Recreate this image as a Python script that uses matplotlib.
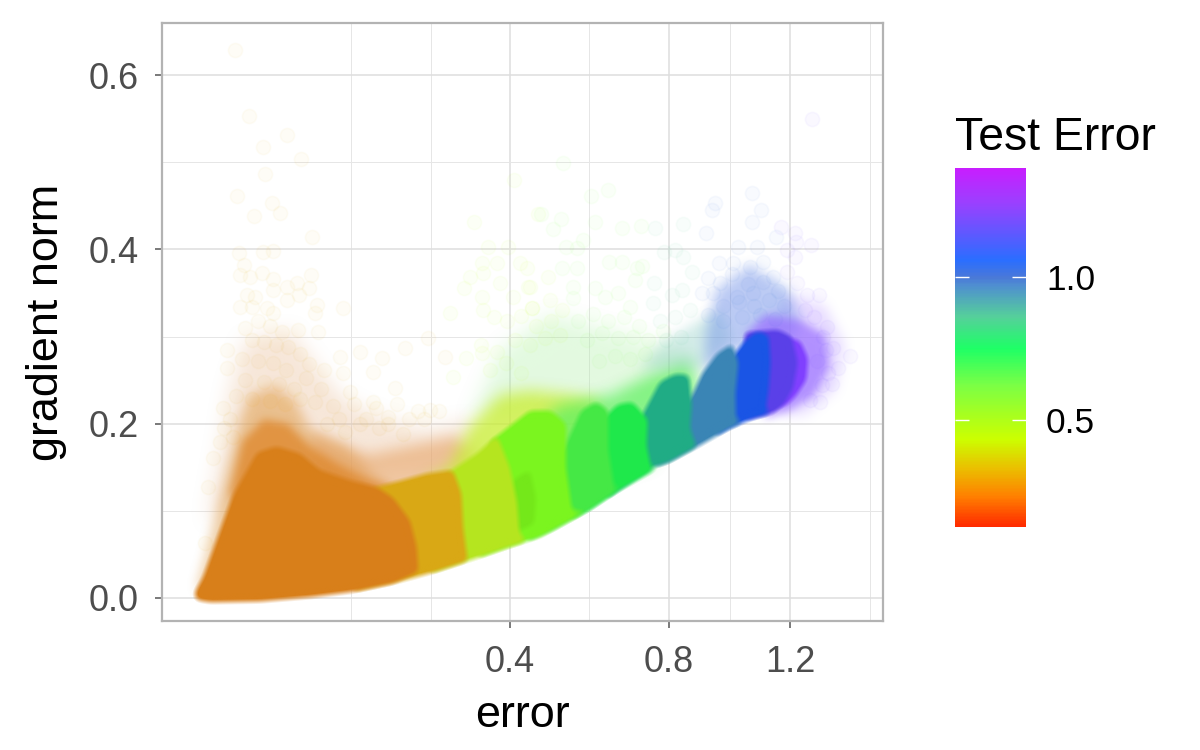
import numpy as np
import matplotlib
matplotlib.use('Agg')
import matplotlib.pyplot as plt
from matplotlib.cm import ScalarMappable
from matplotlib.colors import LinearSegmentedColormap, Normalize

plt.rcParams['font.family'] = ['Liberation Sans', 'DejaVu Sans']

# colour bar
bar_values = [0.124, 0.23, 0.33, 0.43, 0.62, 0.75, 0.86, 0.97, 1.0, 1.06, 1.26, 1.382]
bar_colors = ['#ff2a00', '#ff8000', '#eac000', '#ccff00', '#7bff45', '#1eff66',
              '#55d09a', '#4f8fd0', '#4a78d8', '#2a6eff', '#9a40ff', '#c81eff']
test_min, test_max = 0.124, 1.382
bar_ticks = [0.5, 1.0]

# scattered single runs: sqrt(error), gradient norm
orange_root = [.178, .201, .263, .224, .287, .227, .181, .239, .252, .209, .305, .184, .241, .224, .193,
               .186, .222, .241, .202, .303, .263, .300, .280, .197, .211, .241, .263, .284, .186, .206,
               .231, .313, .310, .356, .241, .194, .282, .315, .384, .459, .421, .164, .164, .351, .356,
               .406, .442, .158, .141, .153, .133, .128, .500, .525, .406, .431, .368, .497,
               .215, .235, .255, .205, .225, .245, .265, .285, .190, .215, .240, .262, .300, .325, .195,
               .225, .250, .275, .295, .320, .180, .205, .235, .260, .285, .310, .340, .375, .410, .445,
               .480, .395, .430, .465, .350, .385, .415, .455, .490, .515, .330, .360, .170, .175, .160]
orange_norm = [.629, .553, .531, .517, .504, .486, .461, .453, .442, .438, .414, .396, .398, .397, .382,
               .371, .373, .366, .368, .371, .357, .356, .361, .348, .345, .353, .342, .348, .334, .334,
               .333, .336, .327, .333, .327, .310, .307, .305, .282, .287, .275, .284, .264, .276, .258,
               .259, .241, .218, .161, .179, .127, .063, .216, .276, .225, .208, .236, .298,
               .318, .312, .305, .296, .294, .290, .288, .280, .274, .272, .270, .262, .268, .262, .250,
               .248, .245, .240, .252, .240, .232, .228, .226, .222, .228, .225, .220, .222, .218, .222,
               .214, .205, .200, .205, .205, .200, .195, .188, .205, .215, .200, .190, .205, .185, .195]
lime_root = [.639, .679, .573, .596, .629, .586, .611, .649, .566, .588, .556, .616, .665, .586, .637,
             .533, .588, .669, .586, .538, .660, .662, .695, .669, .698, .718,
             .605, .628, .650, .675, .700, .560, .585, .610, .640, .665, .690, .715, .600, .625, .650]
lime_norm = [.480, .441, .431, .403, .403, .384, .384, .384, .368, .373, .356, .361, .357, .345, .345,
             .327, .330, .333, .281, .254, .379, .357, .368, .333, .342, .330,
             .322, .318, .324, .312, .318, .275, .290, .282, .296, .290, .298, .302, .262, .270, .258]
green_root = [.720, .795, .766, .683, .717, .704, .773, .817, .849, .725, .743, .753, .796, .817, .842,
              .850, .839, .773, .743, .718, .736, .811, .736, .789, .830,
              .745, .770, .795, .820, .845, .760, .785, .810, .835, .860, .885, .780, .805, .830, .855]
green_norm = [.499, .468, .461, .441, .435, .423, .431, .424, .427, .403, .402, .411, .385, .385, .379,
              .381, .365, .356, .379, .379, .357, .350, .344, .345, .334,
              .318, .326, .318, .322, .312, .296, .304, .298, .300, .296, .306, .272, .278, .274, .280]
teal_root = [.872, .918, .887, .918, .905, .933, .870, .900, .869, .916, .880, .905, .930, .890, .915]
teal_norm = [.424, .429, .397, .391, .399, .374, .361, .348, .338, .353, .318, .322, .330, .296, .300]
blue_root = [1.032, 1.047, .971, .966, 1.032, .956, 1.072, 1.009, 1.040, .978, 1.001, 1.029, 1.050, .959,
             .979, 1.067, 1.007, .968, 1.034, .950,
             .985, 1.010, 1.035, 1.060, 1.085, .960, .985, 1.015, 1.045, 1.070, 1.000, 1.025, 1.050, 1.075]
blue_norm = [.465, .445, .453, .445, .431, .419, .414, .403, .403, .384, .384, .380, .385, .367,
             .361, .368, .345, .350, .350, .350,
             .335, .340, .335, .342, .335, .325, .318, .322, .325, .320, .372, .360, .362, .352]
purple_root = [1.131, 1.080, 1.103, 1.130, 1.105, 1.090, 1.103, 1.090, 1.143, 1.123, 1.107, 1.194, 1.166,
               1.156, 1.174, 1.148, 1.128, 1.158, 1.120, 1.135, 1.150, 1.140, 1.155, 1.165, 1.145]
purple_norm = [.549, .426, .419, .405, .408, .399, .391, .374, .348, .348, .361, .278, .287,
               .311, .264, .244, .227, .258, .330, .322, .300, .272, .285, .245, .225]
cloud_tests = [0.30, 0.45, 0.62, 0.85, 1.03, 1.2]

# thin haze above the solid bands
haze_rim_root = [.170, .190, .225, .265, .300, .345, .400, .445, .445, .300, .190]
haze_rim_norm = [.120, .180, .205, .200, .175, .155, .135, .125, .095, .120, .100]
haze_salmon_root = [.300, .345, .400, .470, .540, .570, .550, .430, .320]
haze_salmon_norm = [.190, .175, .165, .175, .185, .170, .120, .100, .120]
haze_orange_root = [.115, .128, .153, .173, .186, .202, .244, .277, .302, .359, .409, .442, .285, .169]
haze_orange_norm = [.011, .044, .112, .170, .204, .233, .244, .227, .193, .176, .141, .124, .112, .009]
haze_peach_root = [.133, .156, .169, .194, .269, .318, .359, .426, .500, .566, .583, .285]
haze_peach_norm = [.089, .181, .238, .296, .307, .261, .227, .204, .193, .204, .147, .135]
haze_yellow_root = [.480, .533, .566, .616, .665, .731, .781, .781, .649]
haze_yellow_norm = [.130, .150, .198, .233, .238, .233, .227, .181, .147]
haze_pale_root = [.566, .616, .698, .798, .880, .930, .946, .847, .714]
haze_pale_norm = [.204, .284, .325, .307, .290, .284, .262, .233, .216]
haze_green_root = [.649, .714, .797, .864, .930, .946, .864, .781]
haze_green_norm = [.181, .221, .233, .256, .273, .239, .153, .135]
haze_teal_root = [.847, .880, .946, .979, 1.001, .946]
haze_teal_norm = [.262, .290, .319, .330, .296, .262]
haze_blue_root = [.955, .974, 1.028, 1.095, 1.112, 1.095, 1.004, .955]
haze_blue_norm = [.302, .353, .382, .353, .319, .290, .284, .256]
haze_violet_root = [1.020, 1.054, 1.112, 1.153, 1.161, 1.136, 1.095, 1.054, 1.062]
haze_violet_norm = [.302, .325, .319, .302, .267, .233, .216, .206, .296]
haze_lilac_root = [1.095, 1.153, 1.186, 1.170, 1.120, 1.079, 1.046]
haze_lilac_norm = [.348, .336, .290, .239, .210, .210, .307]

# solid bands, one per test error level; each one runs on under the band to its left
band1_root = [.112, .111, .125, .173, .214, .246, .285, .318, .368, .413, .439, .467, .478, .481, .439, .371, .302, .219, .136]
band1_norm = [-.002, .007, .024, .116, .167, .174, .166, .147, .135, .127, .115, .089, .059, .030, .017, .007, .001, -.004, -.005]
band2_root = [.38, .40, .495, .538, .552, .555, .562, .578, .503, .439, .371]
band2_norm = [.03, .125, .143, .147, .120, .081, .043, .046, .029, .017, .007]
band3_root = [.46, .50, .578, .611, .632, .644, .648, .660, .632, .578, .503]
band3_norm = [.05, .130, .166, .187, .150, .110, .075, .065, .059, .046, .029]
blob_root = [.637, .665, .675, .672, .640]
blob_norm = [.135, .147, .115, .085, .075]
band4_root = [.58, .60, .665, .700, .725, .725, .735, .763, .703, .682, .632, .578]
band4_norm = [.07, .18, .215, .215, .200, .150, .100, .101, .078, .070, .059, .046]
band5_root = [.66, .72, .75, .775, .795, .795, .805, .830, .763, .703, .660]
band5_norm = [.080, .170, .215, .225, .215, .170, .125, .133, .101, .078, .065]
band6_root = [.73, .785, .810, .835, .860, .858, .866, .895, .809, .763, .730]
band6_norm = [.110, .205, .222, .225, .205, .175, .148, .156, .122, .101, .089]
band7_root = [.79, .860, .880, .905, .928, .933, .930, .941, .960, .895, .869, .809, .790]
band7_norm = [.130, .222, .248, .257, .256, .222, .195, .173, .181, .156, .150, .122, .113]
band8_root = [.87, .935, .950, .975, 1.000, 1.010, 1.005, 1.006, 1.020, .996, .941, .895, .870]
band8_norm = [.165, .235, .258, .281, .292, .270, .235, .205, .202, .195, .173, .156, .150]
band9_root = [.97, 1.020, 1.040, 1.060, 1.063, 1.060, 1.055, 1.067, 1.034, .996, .970]
band9_norm = [.25, .295, .306, .302, .270, .240, .216, .212, .206, .195, .185]
band10_root = [1.02, 1.075, 1.098, 1.108, 1.100, 1.085, 1.067, 1.034, 1.020]
band10_norm = [.305, .308, .300, .270, .240, .222, .212, .206, .204]
band11_root = [1.060, 1.084, 1.112, 1.125, 1.122, 1.105, 1.090, 1.060]
band11_norm = [.290, .300, .295, .275, .250, .232, .222, .215]

x_major = [0.4, 0.8, 1.2]
x_minor = [0.136, 0.2515, 0.582, 0.992, 1.506]
y_major = [0.0, 0.2, 0.4, 0.6]
y_minor = [0.1, 0.3, 0.5]


def soft_edge(radius, crisp=False):
    kernel = np.hanning(2 * radius + 3)
    kernel = kernel / kernel.sum()

    def apply(image, dpi):
        out = np.pad(image, ((radius, radius), (radius, radius), (0, 0)))
        alpha = out[..., 3:4]
        out = np.concatenate([out[..., :3] * alpha, alpha], axis=2)
        for axis in (0, 1):
            out = np.apply_along_axis(lambda m: np.convolve(m, kernel, mode='same'), axis, out)
        alpha = np.clip(out[..., 3:4], 1e-4, 1)
        rgb = np.clip(out[..., :3] / alpha, 0, 1)
        if crisp:
            # rounds the corners but keeps the edge fairly tight
            alpha = np.clip((alpha - 0.2) / 0.6, 0, 1)
        return np.concatenate([rgb, alpha], axis=2), -radius, -radius
    return apply


def squared(r):
    return np.asarray(r) ** 2


cmap = LinearSegmentedColormap.from_list(
    'test', [((v - test_min) / (test_max - test_min), c) for v, c in zip(bar_values, bar_colors)])
norm = Normalize(test_min, test_max)

fig = plt.figure(figsize=(6, 3.75), dpi=200)
ax = fig.add_axes([162 / 1200, (750 - 621) / 750, 721 / 1200, 598 / 750])
ax.set_xscale('function', functions=(lambda v: np.sqrt(np.maximum(v, 0)), lambda v: v ** 2))
ax.set_xlim(0.00325, 1.5595)
ax.set_ylim(-0.0264, 0.6597)
ax.set_xticks(x_major, ['0.4', '0.8', '1.2'])
ax.set_xticks(x_minor, minor=True)
ax.set_yticks(y_major, ['0.0', '0.2', '0.4', '0.6'])
ax.set_yticks(y_minor, minor=True)
ax.grid(which='major', color='#dedede', lw=0.55)
ax.grid(which='minor', color='#e6e6e6', lw=0.35)
ax.set_axisbelow(True)
ax.tick_params(which='minor', length=0)
ax.tick_params(which='major', length=2.6, width=0.55, color='#555555', labelcolor='#4d4d4d', labelsize=13, pad=5.9)
for spine in ax.spines.values():
    spine.set_color('#b3b3b3')
    spine.set_linewidth(0.8)
ax.set_xlabel('error', fontsize=16.2, labelpad=5.5)
ax.set_ylabel('gradient norm', fontsize=16.2, labelpad=7.5)

hazes = [(haze_peach_root, haze_peach_norm, '#e8b890', 0.34, 24),
         (haze_orange_root, haze_orange_norm, '#e0a050', 0.55, 14),
         (haze_salmon_root, haze_salmon_norm, '#e6a060', 0.55, 16),
         (haze_rim_root, haze_rim_norm, '#e08a30', 0.80, 10),
         (haze_pale_root, haze_pale_norm, '#a8f0a0', 0.32, 24),
         (haze_yellow_root, haze_yellow_norm, '#c8ee30', 0.75, 18),
         (haze_green_root, haze_green_norm, '#60f060', 0.75, 18),
         (haze_teal_root, haze_teal_norm, '#80c8c0', 0.34, 14),
         (haze_lilac_root, haze_lilac_norm, '#c0a0ff', 0.35, 14),
         (haze_blue_root, haze_blue_norm, '#6a8ce8', 0.45, 14),
         (haze_violet_root, haze_violet_norm, '#9a70ff', 0.70, 10)]
for r, n, color, alpha, radius in hazes:
    patch, = ax.fill(squared(r), n, color=color, alpha=alpha, lw=0)
    patch.set_agg_filter(soft_edge(radius))

# painted right to left so each right edge sits on top of its neighbour
bands = [(band11_root, band11_norm, '#8040ff'),
         (band10_root, band10_norm, '#5a40e8'),
         (band9_root, band9_norm, '#1a55e5'),
         (band8_root, band8_norm, '#3a85b5'),
         (band7_root, band7_norm, '#20ac85'),
         (band6_root, band6_norm, '#1fe84b'),
         (band5_root, band5_norm, '#45e845'),
         (band4_root, band4_norm, '#7bf51f'),
         (blob_root, blob_norm, '#74e81a'),
         (band3_root, band3_norm, '#b5e51f'),
         (band2_root, band2_norm, '#d9a815'),
         (band1_root, band1_norm, '#d87f1a')]
for r, n, color in bands:
    patch, = ax.fill(squared(r), n, color=color, lw=0)
    patch.set_agg_filter(soft_edge(8, crisp=True))

clouds = [(orange_root, orange_norm), (lime_root, lime_norm), (green_root, green_norm),
          (teal_root, teal_norm), (blue_root, blue_norm), (purple_root, purple_norm)]
for (r, n), test in zip(clouds, cloud_tests):
    ax.scatter(squared(r), n, s=26, color=cmap(norm(test)), alpha=0.035, linewidths=0.6)

cax = fig.add_axes([955 / 1200, (750 - 527) / 750, 71 / 1200, 359 / 750])
bar = fig.colorbar(ScalarMappable(norm, cmap), cax=cax, ticks=bar_ticks)
bar.outline.set_visible(False)
bar.ax.tick_params(direction='in', length=5, width=0.5, color='white', left=True, right=True,
                   labelsize=12.7, labelcolor='black', pad=7.2)
bar.ax.set_yticklabels(['0.5', '1.0'])
fig.text(955 / 1200, (750 - 150) / 750, 'Test Error', fontsize=16.7, ha='left', va='baseline')

fig.savefig('out.png', dpi=200)
